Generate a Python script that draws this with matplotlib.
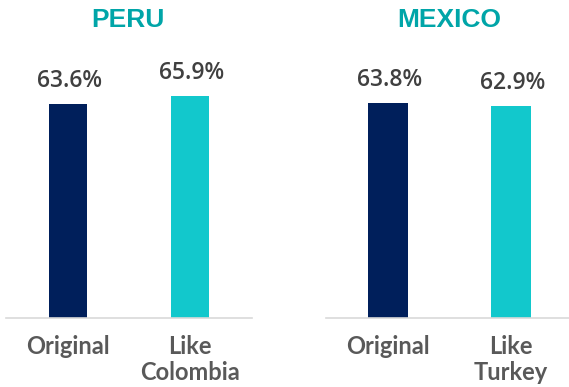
import matplotlib.pyplot as plt

# share of vote per scenario
countries = ['PERU', 'MEXICO']
scenarios_peru = ['Original', 'Like\nColombia']
scenarios_mexico = ['Original', 'Like\nTurkey']
values_peru = [63.6, 65.9]
values_mexico = [63.8, 62.9]

navy = '#001F5B'
teal = '#12C8CC'
title_col = '#00A5A8'

W, H = 569, 387
fig = plt.figure(figsize=(W / 100, H / 100), dpi=100)

def px_axes(x0, x1, y_base, y_top):
    return fig.add_axes([x0 / W, 1 - y_base / H, (x1 - x0) / W, (y_base - y_top) / H])

ax1 = px_axes(6, 252, 318, 49)
ax2 = px_axes(326, 569, 318, 49)

panels = [
    (ax1, scenarios_peru, values_peru, (-0.508, 1.508), 0.31),
    (ax2, scenarios_mexico, values_mexico, (-0.504, 1.47), 0.325),
]

for ax, labels, vals, xl, bw in panels:
    xs = range(len(vals))
    bars = ax.bar(xs, vals, width=bw, color=[navy, teal], zorder=2)
    for b, v in zip(bars, vals):
        ax.annotate(f'{v:.1f}%', (b.get_x() + b.get_width() / 2, v),
                    xytext=(1, 8), textcoords='offset points',
                    ha='center', va='bottom', fontsize=16.5, fontweight='semibold',
                    color='#404040', family='Open Sans')
    ax.set_xlim(*xl)
    ax.set_ylim(0, 80)
    ax.set_xticks(list(xs))
    ax.set_xticklabels(labels, fontsize=17, fontweight='bold', color='#595959',
                       family='Lato', linespacing=1.15)
    ax.tick_params(axis='x', length=0, pad=12)
    ax.set_yticks([])
    for s in ['top', 'left', 'right']:
        ax.spines[s].set_visible(False)
    ax.spines['bottom'].set_color('#D9D9D9')
    ax.spines['bottom'].set_linewidth(1.2)

fig.text(128 / W, 1 - 20 / H, countries[0], ha='center', va='center',
         fontsize=19, fontweight='bold', color=title_col, family='Liberation Sans')
fig.text(449 / W, 1 - 20 / H, countries[1], ha='center', va='center',
         fontsize=19, fontweight='bold', color=title_col, family='Liberation Sans')

fig.savefig('out.png', dpi=100)
